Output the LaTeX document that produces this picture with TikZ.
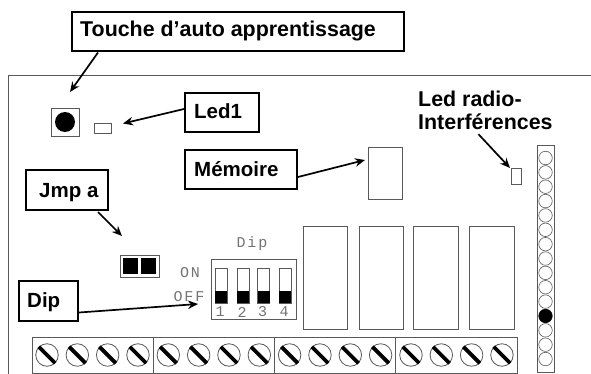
\documentclass[tikz,border=0pt]{standalone}
\usepackage{fontspec}
\setmainfont{Liberation Sans}
\setmonofont{Liberation Mono}
\usetikzlibrary{arrows.meta}
\definecolor{pcb}{gray}{0.35}
\definecolor{pcbtxt}{gray}{0.45}
\tikzset{
  x=1pt,y=-1pt,
  callout/.style={draw=black,line width=2pt,fill=white,inner sep=0pt,anchor=north west},
  pointer/.style={draw=black,line width=1.7pt,-{Stealth[length=10pt,width=8.5pt]}},
  pcbpart/.style={draw=pcb,line width=0.9pt,fill=white},
  pcbtext/.style={text=pcbtxt,font=\ttfamily\fontsize{15}{17}\selectfont,inner sep=0pt},
  pcblabel/.style={font=\bfseries\fontsize{20.5}{23}\selectfont,align=left,inner sep=0pt,anchor=north west},
  pcblabelbig/.style={font=\bfseries\fontsize{21.4}{23}\selectfont,align=left,inner sep=0pt,anchor=north west}
}
\begin{document}
\begin{tikzpicture}
\useasboundingbox (0,0) rectangle (591,374);
% board outline
\draw[pcb,line width=0.9pt] (591,75.5) -- (8.5,75.5) -- (8.5,374);
% push button
\node[pcbpart,minimum width=28pt,minimum height=28pt,inner sep=0pt] (btn) at (65,122) {};
\node[circle,fill=black,minimum size=20pt,inner sep=0pt] (btncap) at (btn) {};
% led1
\node[pcbpart,minimum width=17pt,minimum height=10pt,inner sep=0pt] (led) at (102.5,128) {};
\coordinate (ledtip) at (123,123.5);
\coordinate (btntip) at (70,92);
% memory
\node[pcbpart,minimum width=34pt,minimum height=52pt,inner sep=0pt] (mem) at (385,173) {};
\coordinate (memtip) at (365,160);
% radio led
\node[pcbpart,minimum width=10pt,minimum height=16pt,inner sep=0pt] (rled) at (516,176) {};
\coordinate (rledtip) at (510,168);
% right strip
\node[pcbpart,minimum width=17pt,minimum height=227pt,inner sep=0pt] (strip) at (545.5,258.5) {};
\foreach \i in {0,...,14}{
  \pgfmathsetmacro{\yy}{158+14.36*\i}
  \ifnum\i=11
    \node[circle,draw=black,fill=black,line width=0.6pt,minimum size=13.5pt,inner sep=0pt] (led\i) at (545.5,\yy) {};
  \else
    \node[circle,draw=pcb,fill=white,line width=0.6pt,minimum size=13.5pt,inner sep=0pt] (led\i) at (545.5,\yy) {};
  \fi
}
% jumper
\node[pcbpart,minimum width=39pt,minimum height=22pt,inner sep=0pt] (jmp) at (139.5,266) {};
\node[fill=black,minimum width=15.5pt,minimum height=16pt,inner sep=0pt] (jmpa) at (130.5,266) {};
\node[fill=black,minimum width=15.5pt,minimum height=16pt,inner sep=0pt] (jmpb) at (148.5,266) {};
\coordinate (jmptip) at (122,236);
% dip switch
\node[pcbpart,minimum width=85pt,minimum height=60pt,inner sep=0pt] (dip) at (253.5,289) {};
\foreach \x/\n in {221/1,243/2,263.5/3,285/4}{
  \node[pcbpart,minimum width=12pt,minimum height=35pt,inner sep=0pt] (sw\n) at (\x,285.5) {};
  \node[fill=black,minimum width=12pt,minimum height=12pt,inner sep=0pt] (sl\n) at (\x,297) {};
  \node[pcbtext] (num\n) at (\x-1,312) {\n};
}
\node[pcbtext] (diptxt) at (252,244) {D\kern2pt i\kern2pt p};
\node[pcbtext] (ontxt) at (190,273) {O\kern2pt N};
\node[pcbtext] (offtxt) at (189,297) {O\kern2pt F\kern2pt F};
\coordinate (diptip) at (198,304);
% relays
\foreach \x/\w/\n in {325.2/44.5/1,381/44/2,435.5/45/3,491.5/45/4}{
  \node[pcbpart,minimum width=\w pt,minimum height=103pt,inner sep=0pt] (rel\n) at (\x,277.5) {};
}
% terminal block
\node[pcbpart,minimum width=485pt,minimum height=36pt,inner sep=0pt] (term) at (274.5,355.5) {};
\foreach \x/\n in {153.5/a,274/b,395.5/c}{
  \coordinate (dt\n) at (\x,337.5);
  \coordinate (db\n) at (\x,373.5);
  \draw[pcb,line width=0.9pt] (dt\n) -- (db\n);
}
\foreach \i in {0,...,15}{
  \pgfmathsetmacro{\xx}{47+30.33*\i}
  \node[circle,draw=pcb,fill=white,line width=0.8pt,minimum size=22.5pt,inner sep=0pt] (sc\i) at (\xx,355) {};
  \draw[black,line width=3.8pt] (sc\i.135) -- (sc\i.315);
}
% callouts
\node[callout,minimum width=332pt,minimum height=39pt] (ctouche) at (71,11) {};
\node[pcblabelbig,anchor=base west] (ttouche) at (80,37) {Touche d’auto apprentissage};
\node[callout,minimum width=74pt,minimum height=39pt] (cled) at (184,92) {};
\node[pcblabel,anchor=base west] (tled) at (194,119) {Led1};
\node[callout,minimum width=112pt,minimum height=39pt] (cmem) at (184,149) {};
\node[pcblabel,anchor=base west] (tmem) at (194,176) {Mémoire};
\node[callout,minimum width=82pt,minimum height=40pt] (cjmp) at (25,169) {};
\node[pcblabel,anchor=base west] (tjmp) at (39,197) {Jmp a};
\node[callout,minimum width=59pt,minimum height=40pt] (cdip) at (18,280) {};
\node[pcblabel,anchor=base west] (tdip) at (27,307) {Dip};
\node[pcblabelbig] (cradio) at (418,91) {Led radio-\\Interférences};
% pointers
\draw[pointer] (ctouche.south west) ++(27,0.5) -- (btntip);
\draw[pointer] (cled.west) ++(0,-3.5) -- (ledtip);
\draw[pointer] (cmem.east) ++(0,7.5) -- (memtip);
\draw[pointer] (cjmp.south east) ++(-11,1) -- (jmptip);
\draw[pointer] (cdip.east) ++(0,11.5) -- (diptip);
\draw[pointer] (cradio.south) ++(-7,4) -- (rledtip);
\end{tikzpicture}
\end{document}
